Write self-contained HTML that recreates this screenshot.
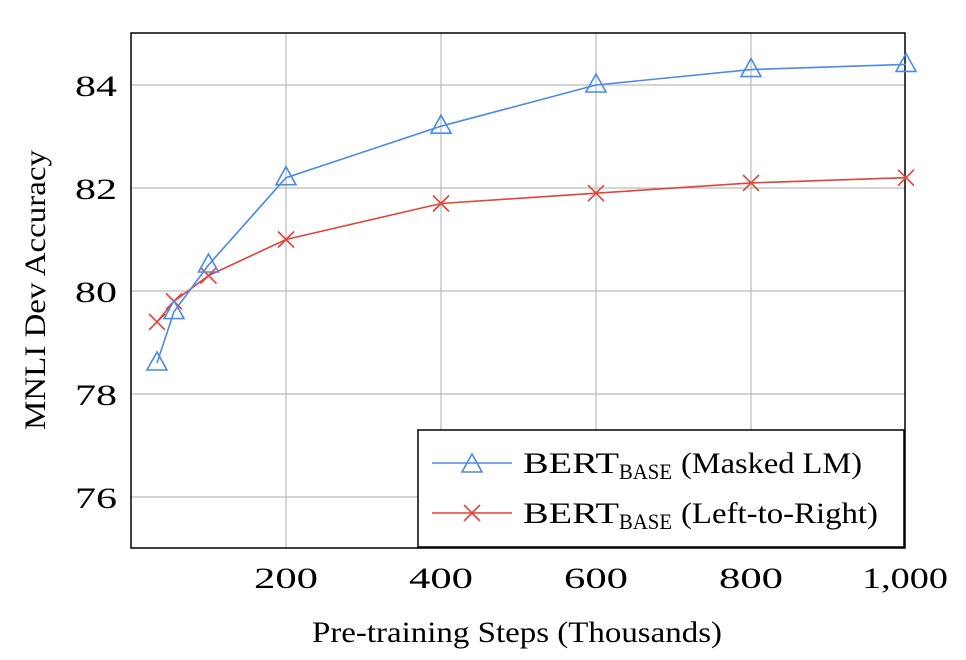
<!DOCTYPE html>
<html><head><meta charset="utf-8"><style>
html,body{margin:0;padding:0;background:#fff;}
svg{display:block;}
text{font-family:"Liberation Serif",serif;fill:#000;}
</style></head><body>
<svg width="966" height="660" viewBox="0 0 966 660" xmlns="http://www.w3.org/2000/svg">
<defs>
<g id="tri"><path d="M0,-11 L10,7 L-10,7 Z" fill="none" stroke="#4a8ae8" stroke-width="1.6"/></g>
<g id="crs"><path d="M-8,-8 L8,8 M-8,8 L8,-8" stroke="#e0443a" stroke-width="1.6"/></g>
</defs>
<g stroke="#bbb" stroke-width="1.2">
<line x1="286" y1="33" x2="286" y2="548"/>
<line x1="441" y1="33" x2="441" y2="548"/>
<line x1="596" y1="33" x2="596" y2="548"/>
<line x1="751" y1="33" x2="751" y2="548"/>
<line x1="131" y1="85" x2="905" y2="85"/>
<line x1="131" y1="188" x2="905" y2="188"/>
<line x1="131" y1="291" x2="905" y2="291"/>
<line x1="131" y1="394" x2="905" y2="394"/>
<line x1="131" y1="497" x2="905" y2="497"/>
</g>
<rect x="131" y="33" width="774" height="515" fill="none" stroke="#000" stroke-width="1.5"/>
<g font-size="30">
<text x="75" y="96" textLength="42" lengthAdjust="spacingAndGlyphs">84</text>
<text x="75" y="199" textLength="42" lengthAdjust="spacingAndGlyphs">82</text>
<text x="75" y="302" textLength="42" lengthAdjust="spacingAndGlyphs">80</text>
<text x="75" y="405" textLength="42" lengthAdjust="spacingAndGlyphs">78</text>
<text x="75" y="508" textLength="42" lengthAdjust="spacingAndGlyphs">76</text>
</g>
<g font-size="30">
<text x="254" y="588" textLength="64" lengthAdjust="spacingAndGlyphs">200</text>
<text x="409" y="588" textLength="64" lengthAdjust="spacingAndGlyphs">400</text>
<text x="564" y="588" textLength="64" lengthAdjust="spacingAndGlyphs">600</text>
<text x="719" y="588" textLength="64" lengthAdjust="spacingAndGlyphs">800</text>
<text x="862" y="588" textLength="86" lengthAdjust="spacingAndGlyphs">1,000</text>
</g>
<text x="312" y="642" font-size="30" textLength="410" lengthAdjust="spacingAndGlyphs">Pre-training Steps (Thousands)</text>
<text transform="translate(45,430) rotate(-90)" font-size="30" textLength="280" lengthAdjust="spacingAndGlyphs">MNLI Dev Accuracy</text>
<polyline fill="none" stroke="#e0443a" stroke-width="1.6" points="157,321.9 174,301.3 208.5,275.6 286,239.5 441,203.5 596,193.2 751,182.9 906,177.7"/>
<polyline fill="none" stroke="#4a8ae8" stroke-width="1.6" points="157,363 174,311.6 208.5,265 286,177.7 441,126.2 596,85 751,69.6 906,64.4"/>
<use href="#crs" x="157" y="321.9"/><use href="#crs" x="174" y="301.3"/><use href="#crs" x="208.5" y="275.6"/><use href="#crs" x="286" y="239.5"/><use href="#crs" x="441" y="203.5"/><use href="#crs" x="596" y="193.2"/><use href="#crs" x="751" y="182.9"/><use href="#crs" x="906" y="177.7"/>
<use href="#tri" x="157" y="363"/><use href="#tri" x="174" y="311.6"/><use href="#tri" x="208.5" y="265"/><use href="#tri" x="286" y="177.7"/><use href="#tri" x="441" y="126.2"/><use href="#tri" x="596" y="85"/><use href="#tri" x="751" y="69.6"/><use href="#tri" x="906" y="64.4"/>
<rect x="418" y="430" width="486" height="117" fill="#fff" stroke="#000" stroke-width="1.5"/>
<line x1="432" y1="463" x2="512" y2="463" stroke="#4a8ae8" stroke-width="1.6"/>
<use href="#tri" x="472" y="465"/>
<line x1="432" y1="513" x2="512" y2="513" stroke="#e0443a" stroke-width="1.6"/>
<use href="#crs" x="472" y="513"/>
<text x="523" y="473" font-size="30" textLength="96" lengthAdjust="spacingAndGlyphs">BERT</text>
<text x="619" y="479" font-size="22" textLength="53" lengthAdjust="spacingAndGlyphs">BASE</text>
<text x="681" y="473" font-size="30" textLength="181" lengthAdjust="spacingAndGlyphs">(Masked LM)</text>
<text x="523" y="523" font-size="30" textLength="96" lengthAdjust="spacingAndGlyphs">BERT</text>
<text x="619" y="529" font-size="22" textLength="53" lengthAdjust="spacingAndGlyphs">BASE</text>
<text x="681" y="523" font-size="30" textLength="197" lengthAdjust="spacingAndGlyphs">(Left-to-Right)</text>
</svg>
</body></html>
